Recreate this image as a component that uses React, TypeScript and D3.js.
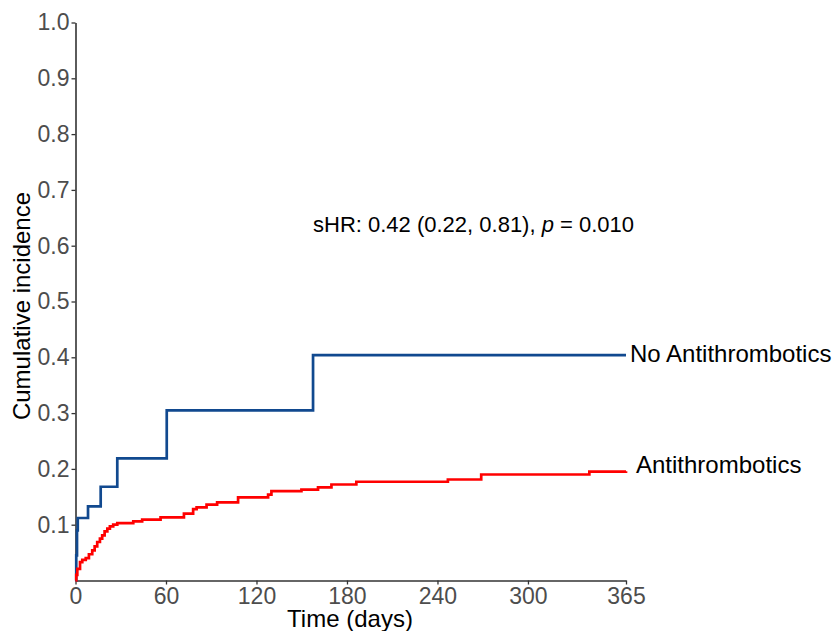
import React, { useEffect, useRef } from "react";
import * as d3 from "d3";

// step points
const noAtTimes = [0, 0.5, 1, 1.5, 8.3, 16.7, 27.7, 60.5, 157.5, 365];
const noAtValues = [0, 0.045, 0.09, 0.112, 0.133, 0.168, 0.219, 0.305, 0.404, 0.404];

const atTimes = [
  0, 0.5, 1.2, 3, 4.5, 6.8, 8.9, 11.1, 12.7, 14.4, 16.2, 17.7, 19.3, 21.1, 22.8, 25, 27.7,
  38.3, 44.2, 56.4, 71.9, 78, 80.3, 86.9, 93.9, 107.8, 127.7, 129.9, 149.8, 160.8, 169.7,
  186.2, 246.9, 269, 340.7, 365,
];
const atValues = [
  0, 0.01, 0.021, 0.033, 0.037, 0.04, 0.047, 0.054, 0.061, 0.069, 0.075, 0.081, 0.088, 0.093,
  0.097, 0.1, 0.103, 0.106, 0.109, 0.113, 0.12, 0.128, 0.131, 0.136, 0.14, 0.149, 0.154, 0.16,
  0.163, 0.167, 0.172, 0.177, 0.181, 0.19, 0.195, 0.196,
];

const xTicks = [0, 60, 120, 180, 240, 300, 365];
const yTicks = [0.1, 0.2, 0.3, 0.4, 0.5, 0.6, 0.7, 0.8, 0.9, 1.0];

const seriesNames = ["No Antithrombotics", "Antithrombotics"];
const seriesColors = ["#11498f", "#ff0000"];

const width = 836;
const height = 631;
const font = "'Liberation Sans', Arial, sans-serif";

export default function App() {
  const ref = useRef<SVGSVGElement>(null);

  useEffect(() => {
    const svg = d3.select(ref.current);
    svg.selectAll("*").remove();

    const x = d3.scaleLinear().domain([0, 365]).range([75.5, 626]);
    const y = d3.scaleLinear().domain([0, 1]).range([580.5, 22.5]);

    // x axis
    const xAxis = svg
      .append("g")
      .attr("transform", `translate(0,${y(0)})`)
      .call(
        d3.axisBottom(x).tickValues(xTicks).tickSize(4).tickSizeOuter(0).tickPadding(3)
      );
    xAxis.select(".domain").attr("stroke", "#333").attr("stroke-width", 1.6);
    xAxis.selectAll(".tick line").attr("stroke", "#333").attr("stroke-width", 1.3);
    xAxis
      .selectAll(".tick text")
      .attr("fill", "#4d4d4d")
      .style("font-family", font)
      .style("font-size", "23px");

    // y axis
    const yAxis = svg
      .append("g")
      .attr("transform", `translate(${x(0)},0)`)
      .call(
        d3
          .axisLeft(y)
          .tickValues(yTicks)
          .tickFormat(d3.format(".1f"))
          .tickSize(4)
          .tickSizeOuter(0)
          .tickPadding(2)
      );
    yAxis.select(".domain").attr("stroke", "#333").attr("stroke-width", 1.6);
    yAxis.selectAll(".tick line").attr("stroke", "#333").attr("stroke-width", 1.3);
    yAxis
      .selectAll(".tick text")
      .attr("fill", "#4d4d4d")
      .style("font-family", font)
      .style("font-size", "23px");

    const line = d3
      .line<[number, number]>()
      .x(d => x(d[0]))
      .y(d => y(d[1]))
      .curve(d3.curveStepAfter);

    const series = [
      noAtTimes.map((t, i) => [t, noAtValues[i]] as [number, number]),
      atTimes.map((t, i) => [t, atValues[i]] as [number, number]),
    ];

    series.forEach((pts, i) => {
      svg
        .append("path")
        .attr("d", line(pts))
        .attr("fill", "none")
        .attr("stroke", seriesColors[i])
        .attr("stroke-width", 2.7);
    });

    // series labels at line ends
    svg
      .append("text")
      .attr("x", 630)
      .attr("y", 362)
      .style("font-family", font)
      .style("font-size", "24px")
      .attr("fill", "#000")
      .text(seriesNames[0]);
    svg
      .append("text")
      .attr("x", 636)
      .attr("y", 473)
      .style("font-family", font)
      .style("font-size", "24px")
      .attr("fill", "#000")
      .text(seriesNames[1]);

    // sHR annotation
    const ann = svg
      .append("text")
      .attr("x", 313)
      .attr("y", 232)
      .style("font-family", font)
      .style("font-size", "22px")
      .attr("fill", "#000");
    ann.append("tspan").text("sHR: 0.42 (0.22, 0.81), ");
    ann.append("tspan").style("font-style", "italic").text("p");
    ann.append("tspan").text(" = 0.010");

    // axis titles
    svg
      .append("text")
      .attr("x", 350)
      .attr("y", 627)
      .attr("text-anchor", "middle")
      .style("font-family", font)
      .style("font-size", "24px")
      .attr("fill", "#000")
      .text("Time (days)");
    svg
      .append("text")
      .attr("transform", "translate(30,306) rotate(-90)")
      .attr("text-anchor", "middle")
      .style("font-family", font)
      .style("font-size", "24px")
      .attr("fill", "#000")
      .text("Cumulative incidence");
  }, []);

  return (
    <svg
      ref={ref}
      width={width}
      height={height}
      style={{ position: "absolute", left: 0, top: 0, background: "#fff" }}
    />
  );
}
